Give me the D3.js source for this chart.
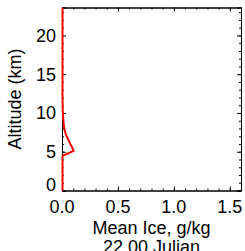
<!DOCTYPE html>
<html><head><meta charset="utf-8">
<script src="https://cdn.jsdelivr.net/npm/d3@7"></script>
<style>body{margin:0;background:#fff}svg{display:block}text{font-family:"Liberation Sans",Arial,sans-serif;fill:#000}</style>
</head><body>
<script>
const altitude = [0,1,2,3,4,4.4,4.5,4.8,5.1,5.5,6.0,6.5,7.0,7.5,8.0,8.5,9.0,9.5,10,11,12,14,16,18,20,22,23.6];
const meanIce  = [0,0,0,0,0,0,0.005,0.052,0.1,0.088,0.07,0.054,0.037,0.024,0.016,0.011,0.008,0.005,0.003,0.001,0,0,0,0,0,0,0];
const xTicks = [0.0,0.5,1.0,1.5];
const xTickLabels = ["0.0","0.5","1.0","1.5"];
const yTicks = [0,5,10,15,20];
const yTickLabels = ["0","5","10","15","20"];
const xLabel = "Mean Ice, g/kg";
const subLabel = "22.00 Julian";
const yLabel = "Altitude (km)";

const W=245,H=251;
const L=62,R=241,T=7.5,B=190.5;
const svg=d3.select("body").append("svg").attr("width",W).attr("height",H);
const x=d3.scaleLinear().domain([0,1.6]).range([L,R]);
const y=d3.scaleLinear().domain([0,23.6]).range([B,T]);

const xMinor=d3.range(0,1.6001,0.1).map(v=>+v.toFixed(2));
const yMinor=d3.range(0,23.6,1);

function ax(gen,tr,vals,len){
  svg.append("g").attr("transform",tr).call(gen.tickValues(vals).tickSize(len).tickFormat(""))
   .call(g=>{g.select(".domain").attr("stroke","#000");g.selectAll(".tick line").attr("stroke","#000");});
}
// inward ticks: use negative sizes
ax(d3.axisBottom(x),`translate(0,${B})`,xMinor,-2);
ax(d3.axisBottom(x),`translate(0,${B})`,xTicks,-4);
ax(d3.axisTop(x),`translate(0,${T})`,xMinor,-2);
ax(d3.axisTop(x),`translate(0,${T})`,xTicks,-4);
ax(d3.axisLeft(y),`translate(${L},0)`,yMinor,-2);
ax(d3.axisLeft(y),`translate(${L},0)`,yTicks,-4);
ax(d3.axisRight(y),`translate(${R},0)`,yMinor,-2);
ax(d3.axisRight(y),`translate(${R},0)`,yTicks,-4);
svg.selectAll(".domain").attr("stroke-width",1);

svg.append("g").selectAll("text").data(xTicks).join("text")
  .attr("x",d=>x(d)).attr("y",213).attr("text-anchor","middle").attr("font-size",18)
  .text((d,i)=>xTickLabels[i]);
svg.append("g").selectAll("text").data(yTicks).join("text")
  .attr("x",56).attr("y",(d,i)=>i===0?B:y(d)+6.5).attr("text-anchor","end").attr("font-size",18)
  .text((d,i)=>yTickLabels[i]);

svg.append("text").attr("x",(L+R)/2).attr("y",233.5).attr("text-anchor","middle").attr("font-size",18).text(xLabel);
svg.append("text").attr("x",(L+R)/2).attr("y",253).attr("text-anchor","middle").attr("font-size",18).text(subLabel);
svg.append("text").attr("transform",`translate(21,${(T+B)/2}) rotate(-90)`).attr("text-anchor","middle").attr("font-size",18).text(yLabel);

const data=altitude.map((a,i)=>({a,v:meanIce[i]}));
svg.append("path").datum(data)
  .attr("d",d3.line().x(d=>x(d.v)+0.5).y(d=>y(d.a)))
  .attr("fill","none").attr("stroke","#ff0000").attr("stroke-width",2).attr("stroke-linejoin","round");
</script>
</body></html>
